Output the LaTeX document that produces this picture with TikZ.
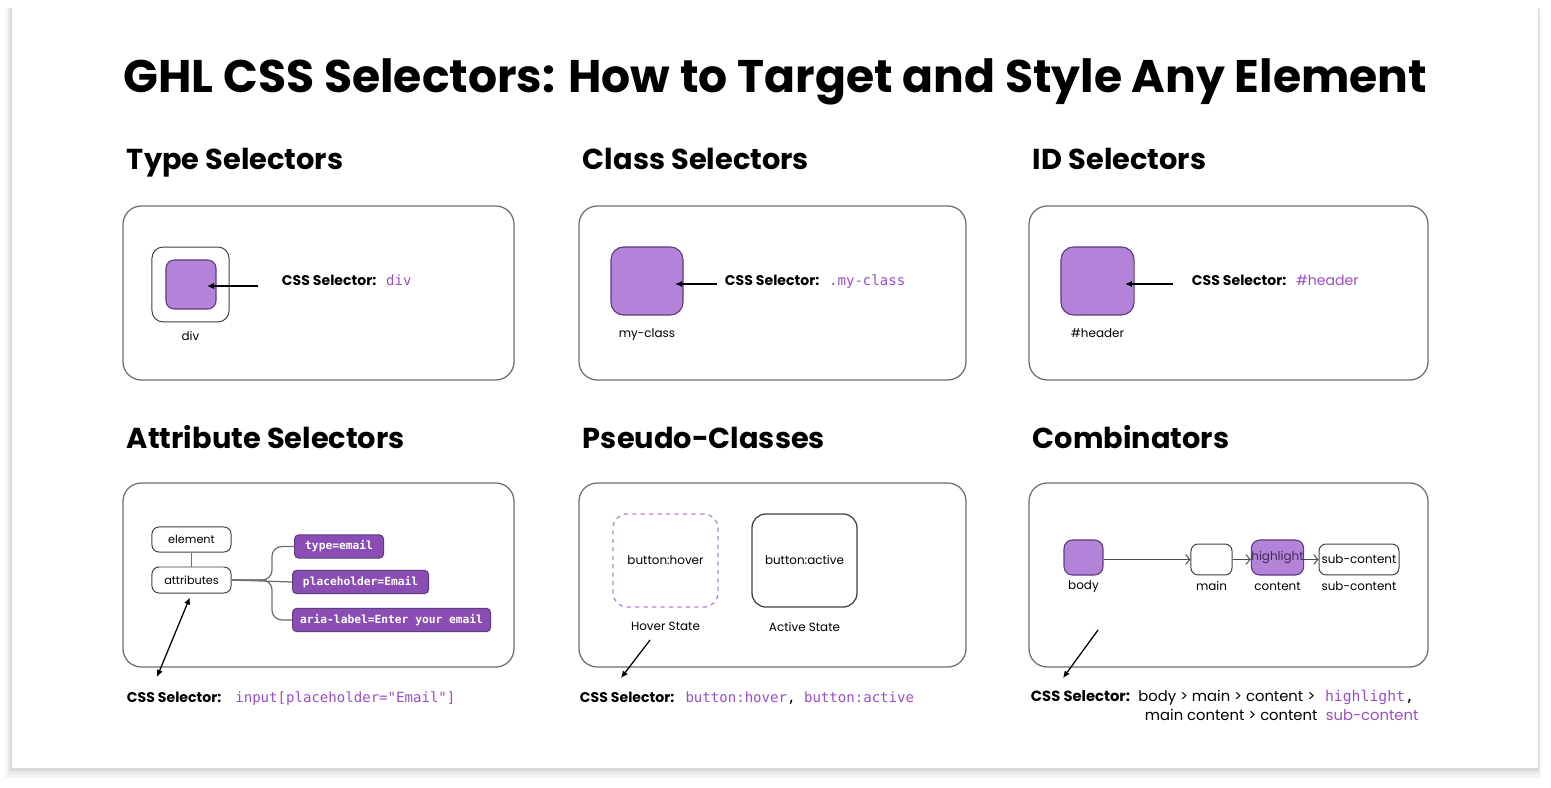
\documentclass[tikz,border=0pt]{standalone}
\usepackage{fontspec}
\setmainfont{Poppins}
\setmonofont{DejaVu Sans Mono}
\usepackage{xcolor}
\usetikzlibrary{positioning, arrows.meta}
\definecolor{lilac}{HTML}{B283D8}
\definecolor{lilacdark}{HTML}{5E3C7E}
\definecolor{plum}{HTML}{8A4DB3}
\definecolor{codeviolet}{HTML}{9A4EC6}
\definecolor{framegray}{HTML}{707070}

\begin{document}
\begin{tikzpicture}[
    x=0.025cm, y=-0.025cm,
    >={Latex[length=5pt, width=4.5pt]},
    panel/.style={draw=framegray, line width=0.9pt, rounded corners=13pt},
    heading/.style={anchor=base west, font=\fontsize{20.5}{24}\selectfont\bfseries},
    tag/.style={rectangle, rounded corners=6pt, draw=lilacdark, line width=0.8pt,
                fill=lilac, inner sep=0pt},
    plainbox/.style={rectangle, rounded corners=5pt, draw=black!75, line width=0.7pt,
                fill=white, inner sep=0pt, font=\fontsize{8}{10}\selectfont},
    attr/.style={rectangle, rounded corners=3pt, draw=lilacdark, line width=0.8pt,
                fill=plum, text=white, anchor=west, inner xsep=3pt, minimum height=16.5pt,
                font=\fontsize{8}{10}\selectfont\ttfamily\bfseries},
    caption/.style={font=\fontsize{8.5}{10}\selectfont},
    selector/.style={anchor=base west, font=\fontsize{10}{12}\selectfont},
    line/.style={->, line width=0.9pt, black},
    flow/.style={-{Straight Barb[length=3pt, width=7pt]}, line width=0.7pt, black!70}
  ]
  \useasboundingbox (0,0) rectangle (1551,788);

  % Card with soft shadow
  \fill[black, opacity=0.04] (5,9) rectangle (1541,778);
  \fill[black, opacity=0.05] (8,8) rectangle (1540,774);
  \fill[black, opacity=0.07] (10,8) rectangle (1539,771);
  \fill[white] (12,7) rectangle (1538,768);

  % Title
  \node[anchor=base, font=\fontsize{32.5}{36}\selectfont\bfseries] (title) at (775.5,93)
    {GHL CSS Selectors: How to Target and Style Any Element};

  % Headings
  \node[heading] (typeh)  at (122,170)  {Type Selectors};
  \node[heading] (classh) at (578,170)  {Class Selectors};
  \node[heading] (idh)    at (1028,170) {ID Selectors};
  \node[heading] (attrh)  at (122,448)  {Attribute Selectors};
  \node[heading] (pseudoh) at (578,448) {Pseudo-Classes};
  \node[heading] (combih) at (1028,448) {Combinators};

  % Panels
  \draw[panel] (123,206) rectangle (514,380);
  \draw[panel] (579,206) rectangle (966,380);
  \draw[panel] (1029,206) rectangle (1428,380);
  \draw[panel] (123,483) rectangle (514,667);
  \draw[panel] (579,483) rectangle (966,667);
  \draw[panel] (1029,483) rectangle (1428,667);

  % Type selectors
  \node[plainbox, minimum width=54.8pt, minimum height=53.3pt, rounded corners=8pt] (divouter) at (190.5,284.5) {};
  \node[tag, minimum width=35.6pt, minimum height=34.9pt] (divbox) at (191,284.5) {};
  \node[caption, below=3pt of divouter] (divlbl) {div};
  \node[selector] (selA) at (277,285) {\bfseries CSS Selector:\hspace{7pt}\mdseries\ttfamily\textcolor{codeviolet}{div}};
  \coordinate (tailA) at (258,286);
  \draw[line, shorten >=11.4pt] (tailA) -- (divbox.center |- tailA);

  % Class selectors
  \node[tag, minimum width=51.2pt, minimum height=48.4pt, rounded corners=9pt] (classbox) at (647,281) {};
  \node[caption, below=6pt of classbox] (classlbl) {my-class};
  \node[selector] (selB) at (720,285) {\bfseries CSS Selector:\hspace{7pt}\mdseries\ttfamily\textcolor{codeviolet}{.my-class}};
  \coordinate (tailB) at (717,284);
  \draw[line, shorten >=20pt] (tailB) -- (classbox.center |- tailB);

  % ID selectors
  \node[tag, minimum width=52pt, minimum height=48.4pt, rounded corners=9pt] (idbox) at (1097.5,281) {};
  \node[caption, below=6pt of idbox] (idlbl) {\#header};
  \node[selector] (selC) at (1187,285) {\bfseries CSS Selector:\hspace{7pt}\mdseries\textcolor{codeviolet}{\#header}};
  \coordinate (tailC) at (1173,284);
  \draw[line, shorten >=19.6pt] (tailC) -- (idbox.center |- tailC);

  % Attribute selectors
  \node[plainbox, minimum width=56.2pt, minimum height=17.8pt] (elem) at (191.5,539.5) {element};
  \node[plainbox, minimum width=56.2pt, minimum height=18.5pt] (attrs) at (191.5,580) {attributes};
  \node[attr, minimum width=63.3pt] (typeattr) at (294,546.5) {type=email};
  \node[attr, minimum width=96.7pt] (phattr) at (292,582) {placeholder=Email};
  \node[attr, minimum width=140.8pt] (ariaattr) at (292,620) {aria-label=Enter your email};
  \coordinate (fork) at (272,580);
  \draw[framegray, line width=0.9pt] (elem) -- (attrs);
  \draw[framegray, line width=0.9pt, rounded corners=7pt] (attrs.east) -- (fork) |- (typeattr.west);
  \draw[framegray, line width=0.9pt] (attrs.east) -- (phattr.west);
  \draw[framegray, line width=0.9pt, rounded corners=7pt] (attrs.east) -- (fork) |- (ariaattr.west);
  \node[selector] (selD) at (122,702) {\bfseries CSS Selector:\hspace{10pt}\mdseries\ttfamily\textcolor{codeviolet}{input[placeholder="Email"]}};
  \coordinate (tipD) at (157,677);
  \draw[line, <->, shorten <=3pt] (attrs.south) -- (tipD);

  % Pseudo-classes
  \node[rectangle, rounded corners=10pt, draw=lilac, dashed, line width=0.9pt,
        minimum width=74.7pt, minimum height=66.2pt, font=\fontsize{8.5}{10}\selectfont] (hoverbox) at (665.5,560.5) {button:hover};
  \node[rectangle, rounded corners=10pt, draw=black!75, line width=0.9pt,
        minimum width=74.7pt, minimum height=66.2pt, font=\fontsize{8.5}{10}\selectfont] (activebox) at (804.5,560.5) {button:active};
  \node[caption, below=7pt of hoverbox] (hoverlbl) {Hover State};
  \node[caption, below=7pt of activebox] (activelbl) {Active State};
  \node[selector] (selE) at (575,702) {\bfseries CSS Selector:\hspace{8pt}\mdseries\ttfamily\textcolor{codeviolet}{button:hover}, \textcolor{codeviolet}{button:active}};
  \coordinate (tailE) at (650,640);
  \coordinate (tipE) at (621,678);
  \draw[line] (tailE) -- (tipE);

  % Combinators
  \node[tag, minimum width=27.7pt, minimum height=24.9pt] (bodybox) at (1083.5,557.5) {};
  \node[plainbox, minimum width=29.2pt, minimum height=22pt] (mainbox) at (1211.5,559.5) {};
  \node[tag, minimum width=34.9pt, minimum height=24.9pt, text=lilacdark!70!black,
        font=\fontsize{8.5}{10}\selectfont] (hlbox) at (1277.5,557.5) {highlight};
  \node[plainbox, minimum width=56.9pt, minimum height=22pt, font=\fontsize{8.5}{10}\selectfont] (subbox) at (1359,559.5) {sub-content};
  \node[caption, below=0pt of bodybox] (bodylbl) {body};
  \node[caption, below=1pt of mainbox] (mainlbl) {main};
  \node[caption, below=1pt of hlbox] (contentlbl) {content};
  \node[caption, below=1pt of subbox] (sublbl) {sub-content};
  \draw[flow] (bodybox.east |- mainbox) -- (mainbox);
  \draw[flow] (mainbox) -- (hlbox.west |- mainbox);
  \draw[flow] (hlbox.east |- subbox) -- (subbox);
  \node[selector, font=\fontsize{10.5}{12}\selectfont] (selF) at (1026,701) {\bfseries CSS Selector:\hspace{6pt}\mdseries body > main > content >\hspace{7pt}\ttfamily\textcolor{codeviolet}{highlight},};
  \node[selector, font=\fontsize{10.5}{12}\selectfont] (selF2) at (1140,720) {main content > content\hspace{6pt}\textcolor{codeviolet}{sub-content}};
  \coordinate (tailF) at (1098,630);
  \coordinate (tipF) at (1063,678);
  \draw[line] (tailF) -- (tipF);
\end{tikzpicture}
\end{document}
